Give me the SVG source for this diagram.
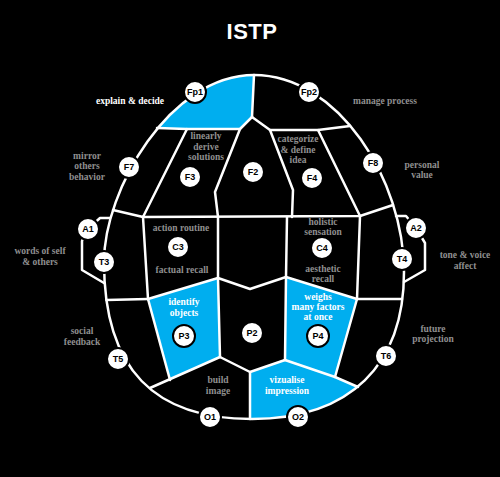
<svg xmlns="http://www.w3.org/2000/svg" width="500" height="477" viewBox="0 0 500 477">
<style>
.ln{fill:none;stroke:#fff;stroke-width:2.5;stroke-linejoin:round;stroke-linecap:round}
.blue{fill:#00aeef}
.nd circle{fill:#fff;stroke:#000;stroke-width:2}
.nd text{font-family:"Liberation Sans",Arial,sans-serif;font-weight:bold;font-size:9px;fill:#000;text-anchor:middle}
.lb{font-family:"Liberation Serif","Times New Roman",serif;font-weight:bold;font-size:9.5px;fill:#8f8f8f;text-anchor:middle}
.lw{fill:#fff}
.title{font-family:"Liberation Sans",Arial,sans-serif;font-weight:bold;font-size:22px;fill:#fff;text-anchor:middle;letter-spacing:0.5px}
</style>
<defs>
<clipPath id="head"><path d="M254,75 C170,75 104,190 104,262 C104,370 155,419 252,419 C350,419 404,365 404,272 C404,180 338,75 254,75 Z"/></clipPath>
</defs>
<rect width="500" height="477" fill="#000"/>
<text class="title" x="252" y="39">ISTP</text>
<g id="regions">
<polygon class="blue" clip-path="url(#head)" points="254,60 140,60 140,127 157,128 187,129 240,129 252,117"/>
<polygon class="blue" clip-path="url(#head)" points="250,372 285,360 335,377 358,387 380,440 250,440"/>
<polygon class="blue" points="148,299 218,278 220,357 170,380"/>
<polygon class="blue" points="286,277 357,299 335,377 285,360"/>
</g>
<g id="connectors">
<path class="ln" d="M254,75 C170,75 104,190 104,262 C104,370 155,419 252,419 C350,419 404,365 404,272 C404,180 338,75 254,75 Z"/>
<polyline class="ln" points="254,75 252,117"/>
<polyline class="ln" points="157,128 187,129 240,129 252,117"/>
<polyline class="ln" points="252,117 270,130 318,130 350,126"/>
<polyline class="ln" points="187,129 143,217"/>
<polyline class="ln" points="240,129 215,192 218,217"/>
<polyline class="ln" points="270,130 293,190 292,217"/>
<polyline class="ln" points="318,130 360,216"/>
<polyline class="ln" points="113,210 143,217"/>
<polyline class="ln" points="143,217 360,216 393,205"/>
<polyline class="ln" points="143,217 148,299"/>
<polyline class="ln" points="106.5,300 148,299"/>
<polyline class="ln" points="218,217 218,278 220,357"/>
<polyline class="ln" points="148,299 218,278"/>
<polyline class="ln" points="148,299 170,380"/>
<polyline class="ln" points="150,388 220,357"/>
<polyline class="ln" points="218,278 250,289 286,277"/>
<polyline class="ln" points="287,217 286,277 285,360"/>
<polyline class="ln" points="360,216 357,299"/>
<polyline class="ln" points="286,277 357,299"/>
<polyline class="ln" points="357,299 402,299"/>
<polyline class="ln" points="357,299 335,377"/>
<polyline class="ln" points="220,357 250,372 285,360"/>
<polyline class="ln" points="285,360 335,377 358,387"/>
<polyline class="ln" points="250,372 250,419"/>
<polyline class="ln" points="110,218 100,218 88,229 82,241 82,270 104,283"/>
<polyline class="ln" points="396,216 406,216 416,228 425,243 425,270 404,282"/>
</g>
<g id="Fp1" class="nd"><circle cx="195" cy="92" r="11"/><text x="195" y="95">Fp1</text></g>
<g id="Fp2" class="nd"><circle cx="309" cy="92" r="11"/><text x="309" y="95">Fp2</text></g>
<g id="F7" class="nd"><circle cx="129" cy="167" r="11"/><text x="129" y="170">F7</text></g>
<g id="F8" class="nd"><circle cx="373" cy="163" r="11"/><text x="373" y="166">F8</text></g>
<g id="F3" class="nd"><circle cx="190" cy="177" r="11"/><text x="190" y="180">F3</text></g>
<g id="F2" class="nd"><circle cx="253" cy="172" r="11"/><text x="253" y="175">F2</text></g>
<g id="F4" class="nd"><circle cx="312" cy="178" r="11"/><text x="312" y="181">F4</text></g>
<g id="A1" class="nd"><circle cx="88" cy="229" r="11"/><text x="88" y="232">A1</text></g>
<g id="A2" class="nd"><circle cx="416" cy="228" r="11"/><text x="416" y="231">A2</text></g>
<g id="T3" class="nd"><circle cx="104" cy="262" r="11"/><text x="104" y="265">T3</text></g>
<g id="T4" class="nd"><circle cx="402" cy="259" r="11"/><text x="402" y="262">T4</text></g>
<g id="C3" class="nd"><circle cx="178" cy="247" r="11"/><text x="178" y="250">C3</text></g>
<g id="C4" class="nd"><circle cx="322" cy="248" r="11"/><text x="322" y="251">C4</text></g>
<g id="P3" class="nd"><circle cx="184" cy="336" r="11"/><text x="184" y="339">P3</text></g>
<g id="P2" class="nd"><circle cx="252" cy="333" r="11"/><text x="252" y="336">P2</text></g>
<g id="P4" class="nd"><circle cx="318" cy="336" r="11"/><text x="318" y="339">P4</text></g>
<g id="T5" class="nd"><circle cx="118" cy="359" r="11"/><text x="118" y="362">T5</text></g>
<g id="T6" class="nd"><circle cx="386" cy="356" r="11"/><text x="386" y="359">T6</text></g>
<g id="O1" class="nd"><circle cx="210" cy="417" r="11"/><text x="210" y="420">O1</text></g>
<g id="O2" class="nd"><circle cx="298" cy="417" r="11"/><text x="298" y="420">O2</text></g>
<g id="labels">
<text class="lb lw" x="130" y="104">explain &amp; decide</text>
<text class="lb" x="385" y="104">manage process</text>
<text class="lb" y="158.5"><tspan x="87">mirror</tspan><tspan x="87" dy="10.5">others</tspan><tspan x="87" dy="10.5">behavior</tspan></text>
<text class="lb" y="139"><tspan x="206">linearly</tspan><tspan x="206" dy="10.5">derive</tspan><tspan x="206" dy="10.5">solutions</tspan></text>
<text class="lb" y="142"><tspan x="298">categorize</tspan><tspan x="298" dy="10.5">&amp; define</tspan><tspan x="298" dy="10.5">idea</tspan></text>
<text class="lb" y="167.5"><tspan x="422">personal</tspan><tspan x="422" dy="10.5">value</tspan></text>
<text class="lb" y="254"><tspan x="40">words of self</tspan><tspan x="40" dy="10.5">&amp; others</tspan></text>
<text class="lb" x="181" y="231">action routine</text>
<text class="lb" x="182" y="272.5">factual recall</text>
<text class="lb lw" y="305"><tspan x="184">identify</tspan><tspan x="184" dy="10.5">objects</tspan></text>
<text class="lb" y="334"><tspan x="82">social</tspan><tspan x="82" dy="10.5">feedback</tspan></text>
<text class="lb" y="225"><tspan x="323">holistic</tspan><tspan x="323" dy="10">sensation</tspan></text>
<text class="lb" y="271.5"><tspan x="323">aesthetic</tspan><tspan x="323" dy="10.5">recall</tspan></text>
<text class="lb" y="258"><tspan x="465">tone &amp; voice</tspan><tspan x="465" dy="10.5">affect</tspan></text>
<text class="lb lw" y="300"><tspan x="318">weighs</tspan><tspan x="318" dy="10.2">many factors</tspan><tspan x="318" dy="10.2">at once</tspan></text>
<text class="lb" y="331.5"><tspan x="433">future</tspan><tspan x="433" dy="10.5">projection</tspan></text>
<text class="lb" y="383"><tspan x="218">build</tspan><tspan x="218" dy="10.5">image</tspan></text>
<text class="lb lw" y="383"><tspan x="287">vizualise</tspan><tspan x="287" dy="10.5">impression</tspan></text>
</g>
</svg>
